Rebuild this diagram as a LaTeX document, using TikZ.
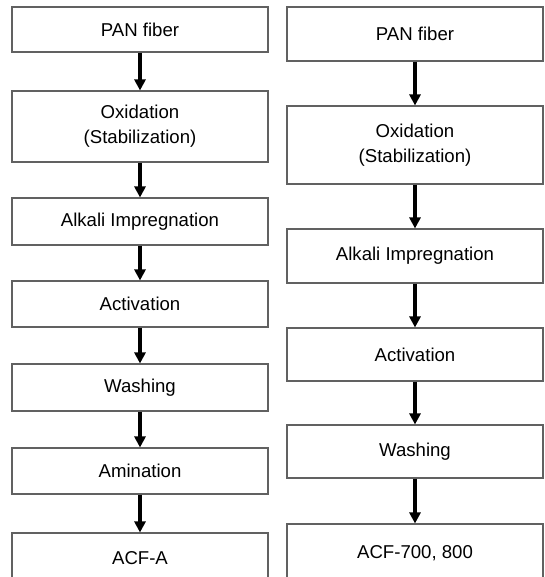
\documentclass[tikz,border=0pt]{standalone}
\usepackage{fontspec}
\setmainfont{Liberation Sans}
\usetikzlibrary{arrows.meta}
\begin{document}
\begin{tikzpicture}[x=1pt, y=-1pt]
\tikzstyle{stepbox}=[draw=black!62, line width=1.1pt, fill=white, rectangle, minimum width=256pt, align=center, font=\fontsize{18.6}{25}\selectfont, inner sep=0pt]
\tikzstyle{flow}=[line width=3.2pt, -{Triangle[width=11pt,length=11pt]}]
\useasboundingbox (0,0) rectangle (544,577);
\clip (0,0) rectangle (544,577);

% left route
\node[stepbox, minimum height=45pt] (L1) at (140,29.5) {PAN fiber};
\node[stepbox, minimum height=71pt] (L2) at (140,126.5) {Oxidation\\(Stabilization)};
\node[stepbox, minimum height=47pt] (L3) at (140,221.5) {Alkali Impregnation};
\node[stepbox, minimum height=46pt] (L4) at (140,304) {Activation};
\node[stepbox, minimum height=47pt] (L5) at (140,387.5) {Washing};
\node[stepbox, minimum height=46pt] (L6) at (140,471) {Amination};
\node[stepbox, minimum height=50pt] (L7) at (140,558) {ACF-A};

% right route
\node[stepbox, minimum height=54pt] (R1) at (415,34) {PAN fiber};
\node[stepbox, minimum height=78pt] (R2) at (415,145) {Oxidation\\(Stabilization)};
\node[stepbox, minimum height=54pt] (R3) at (415,256) {Alkali Impregnation};
\node[stepbox, minimum height=53pt] (R4) at (415,354.5) {Activation};
\node[stepbox, minimum height=53pt] (R5) at (415,451.5) {Washing};
\node[stepbox, minimum height=58pt] (R6) at (415,553) {ACF-700, 800};

\draw[flow] (L1) edge (L2);
\draw[flow] (L2) edge (L3);
\draw[flow] (L3) edge (L4);
\draw[flow] (L4) edge (L5);
\draw[flow] (L5) edge (L6);
\draw[flow] (L6) edge (L7);

\draw[flow] (R1) edge (R2);
\draw[flow] (R2) edge (R3);
\draw[flow] (R3) edge (R4);
\draw[flow] (R4) edge (R5);
\draw[flow] (R5) edge (R6);
\end{tikzpicture}
\end{document}
